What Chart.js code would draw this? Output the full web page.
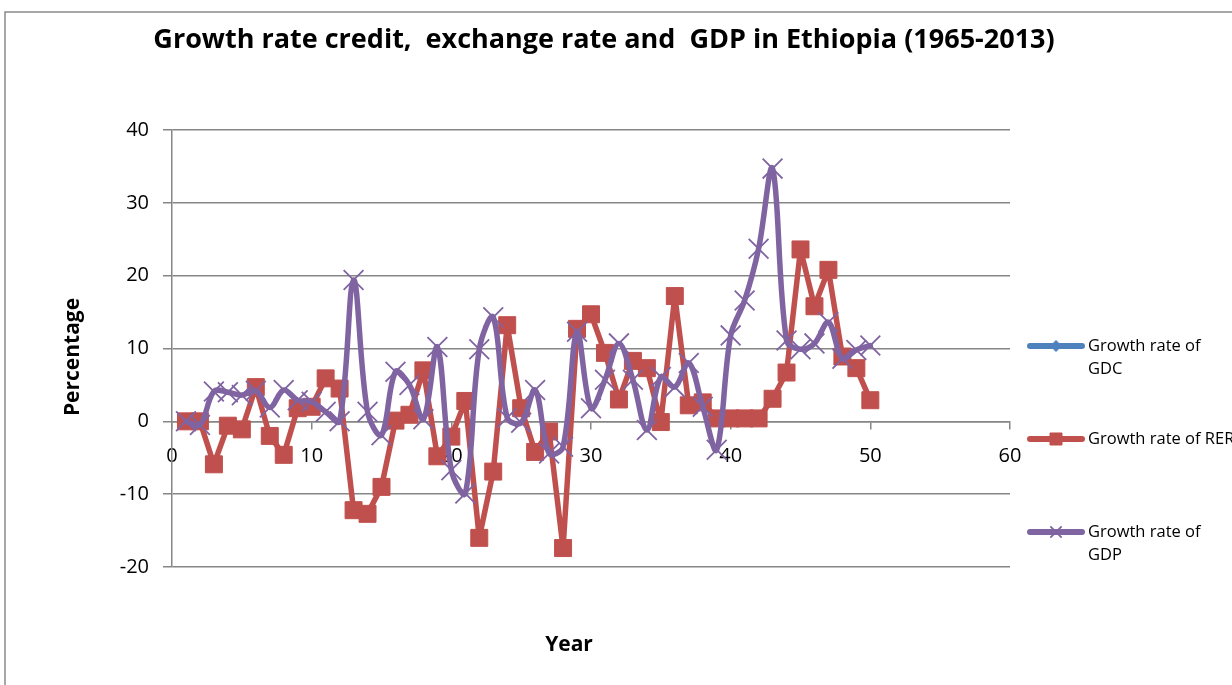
<!DOCTYPE html>
<html>
<head>
<meta charset="utf-8">
<script src="https://cdn.jsdelivr.net/npm/chart.js@4"></script>
<style>
  html, body { margin: 0; padding: 0; background: #fff; }
  #wrap { width: 1232px; height: 685px; position: relative; }
</style>
</head>
<body>
<div id="wrap"><canvas id="growthChart"></canvas></div>
<script>
// Dữ liệu (năm thứ 1..50, 1965-2013)
const years = [1, 2, 3, 4, 5, 6, 7, 8, 9, 10,
	11, 12, 13, 14, 15, 16, 17, 18, 19, 20,
	21, 22, 23, 24, 25, 26, 27, 28, 29, 30,
	31, 32, 33, 34, 35, 36, 37, 38, 39, 40,
	41, 42, 43, 44, 45, 46, 47, 48, 49, 50];

const gdcValues = []; // không có điểm nào hiển thị trên hình

const rerValues = [0, 0, -5.9, -0.6, -1.1, 4.7, -2.0, -4.6, 1.8, 2.0,
	5.9, 4.5, -12.2, -12.7, -9.0, 0.1, 0.9, 7.0, -4.8, -2.1,
	2.8, -16.0, -6.9, 13.2, 1.8, -4.2, -1.4, -17.4, 12.7, 14.7,
	9.4, 3.0, 8.3, 7.3, -0.1, 17.2, 2.2, 2.6, 0.4, 0.4,
	0.4, 0.4, 3.1, 6.7, 23.6, 15.8, 20.8, 8.9, 7.3, 2.9];

const gdpValues = [0, -0.5, 4.1, 4.0, 3.6, 4.2, 1.9, 4.3, 2.9, 2.7,
	1.3, 0, 19.4, 1.3, -1.9, 6.8, 5.0, 0.3, 10.2, -6.7,
	-9.9, 9.9, 14.3, 0.5, -0.2, 4.3, -4.4, -3.5, 12.3, 1.8,
	5.7, 10.7, 5.7, -1.2, 6.1, 4.7, 8.0, 2.0, -3.9, 11.8,
	16.6, 23.7, 34.7, 11.1, 9.9, 10.7, 13.6, 8.6, 9.8, 10.4];

const xTicks = [0, 10, 20, 30, 40, 50, 60];
const yTicks = [-20, -10, 0, 10, 20, 30, 40];

const seriesLabels = ["Growth rate of GDC", "Growth rate of RER", "Growth rate of GDP"];
const legendLines = [["Growth rate of", "GDC"], ["Growth rate of RER"], ["Growth rate of", "GDP"]];

const chartTitle = "Growth rate credit,  exchange rate and  GDP in Ethiopia (1965-2013)";
const xTitle = "Year";
const yTitle = "Percentage";

const FONT = "'Open Sans', 'Noto Sans', sans-serif";
const GRID = "#868686";

function toPoints(values) {
	return values.map((v, i) => ({ x: years[i], y: v }));
}

// Plugin vẽ khung, tiêu đề, tên trục và chú thích bên phải
const decorPlugin = {
	id: "decor",
	afterDraw(chart) {
		const ctx = chart.ctx;
		ctx.save();

		// khung ngoài
		ctx.strokeStyle = "#8a8a8a";
		ctx.lineWidth = 1.5;
		ctx.beginPath();
		ctx.moveTo(5, 685);
		ctx.lineTo(5, 12);
		ctx.lineTo(1232, 12);
		ctx.stroke();

		// tiêu đề
		ctx.fillStyle = "#000";
		ctx.textAlign = "center";
		ctx.textBaseline = "alphabetic";
		ctx.font = "bold 27px " + FONT;
		ctx.fillText(chartTitle, 604, 48);

		// tên trục
		ctx.textBaseline = "middle";
		ctx.font = "bold 21px " + FONT;
		ctx.fillText(xTitle, 569, 645);
		ctx.save();
		ctx.translate(73, 357);
		ctx.rotate(-Math.PI / 2);
		ctx.fillText(yTitle, 0, 0);
		ctx.restore();

		// chú thích
		const rowsY = [346, 439, 532];
		ctx.textAlign = "left";
		ctx.font = "16.5px " + FONT;
		chart.data.datasets.forEach((ds, i) => {
			const y = rowsY[i];
			ctx.strokeStyle = ds.borderColor;
			ctx.lineWidth = 6;
			ctx.lineCap = "round";
			ctx.beginPath();
			ctx.moveTo(1030, y);
			ctx.lineTo(1082, y);
			ctx.stroke();
			ctx.lineCap = "butt";
			ctx.fillStyle = ds.pointBackgroundColor;
			ctx.strokeStyle = ds.pointBorderColor;
			ctx.lineWidth = ds.pointBorderWidth;
			Chart.helpers.drawPoint(ctx, {
				pointStyle: ds.pointStyle,
				radius: ds.legendRadius,
				borderWidth: ds.pointBorderWidth,
				rotation: 0,
			}, 1056, y);
			ctx.fillStyle = "#000";
			legendLines[i].forEach((line, k) => {
				ctx.fillText(line, 1088, y + k * 23);
			});
		});
		ctx.restore();
	},
};

const growthChartEl = document.getElementById("growthChart");
new Chart(growthChartEl.getContext("2d"), {
	type: "line",
	data: {
		datasets: [
			{
				label: seriesLabels[0],
				data: toPoints(gdcValues),
				borderColor: "#4F81BD",
				backgroundColor: "#4F81BD",
				pointBackgroundColor: "#4F81BD",
				pointBorderColor: "#4F81BD",
				pointStyle: "rectRot",
				pointRadius: 7,
				legendRadius: 5.5,
				pointBorderWidth: 1,
				borderWidth: 5.5,
				borderJoinStyle: "round",
				borderCapStyle: "round",
				tension: 0.3,
				order: 3,
			},
			{
				label: seriesLabels[1],
				data: toPoints(rerValues),
				borderColor: "#C0504D",
				backgroundColor: "#C0504D",
				pointBackgroundColor: "#C0504D",
				pointBorderColor: "#C0504D",
				pointStyle: "rect",
				pointRadius: 12,
				legendRadius: 8.5,
				pointBorderWidth: 1,
				borderWidth: 5.5,
				borderJoinStyle: "round",
				borderCapStyle: "round",
				tension: 0,
				order: 2,
			},
			{
				label: seriesLabels[2],
				data: toPoints(gdpValues),
				borderColor: "#8064A2",
				backgroundColor: "#8064A2",
				pointBackgroundColor: "#8064A2",
				pointBorderColor: "#8064A2",
				pointStyle: "crossRot",
				pointRadius: 14,
				legendRadius: 8,
				pointBorderWidth: 1.8,
				borderWidth: 5.5,
				borderJoinStyle: "round",
				borderCapStyle: "round",
				tension: 0.35,
				order: 1,
			},
		],
	},
	options: {
		responsive: true,
		maintainAspectRatio: false,
		animation: false,
		layout: { padding: { left: 0, right: 222, top: 130, bottom: 118 } },
		scales: {
			x: {
				type: "linear",
				position: { y: 0 },
				min: 0,
				max: 60,
				afterBuildTicks: (scale) => { scale.ticks = xTicks.map((v) => ({ value: v })); },
				ticks: { color: "#000", font: { family: FONT, size: 20 }, padding: 16, maxRotation: 0 },
				grid: { drawOnChartArea: false, color: GRID, tickLength: 7, lineWidth: 1.5 },
				border: { color: GRID, width: 1.5 },
			},
			y: {
				min: -20,
				max: 40,
				afterBuildTicks: (scale) => { scale.ticks = yTicks.map((v) => ({ value: v })); },
				afterFit: (scale) => { scale.width = 172; },
				ticks: { color: "#000", font: { family: FONT, size: 20 }, padding: 14 },
				grid: { color: GRID, tickLength: 9, lineWidth: 1.5 },
				border: { color: GRID, width: 1.5 },
			},
		},
		plugins: {
			legend: { display: false },
			title: { display: false },
			tooltip: { enabled: false },
		},
	},
	plugins: [decorPlugin],
});
</script>
</body>
</html>
